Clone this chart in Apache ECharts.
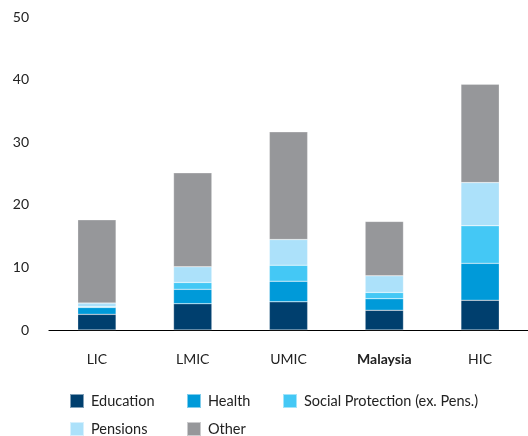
<!DOCTYPE html>
<html><head><meta charset="utf-8">
<script src="https://cdn.jsdelivr.net/npm/echarts@6/dist/echarts.min.js"></script>
<style>html,body{margin:0;padding:0;background:#fff}#c{width:528px;height:436px}</style>
</head><body><div id="c"></div>
<script>
const categories = ['LIC', 'LMIC', 'UMIC', 'Malaysia', 'HIC'];
const education = [2.5, 4.2, 4.5, 3.15, 4.75];
const health = [1.1, 2.3, 3.3, 1.85, 5.9];
const socialProtection = [0.1, 1.1, 2.55, 1.0, 6.0];
const pensions = [0.6, 2.5, 4.1, 2.65, 6.9];
const other = [13.3, 15.0, 17.2, 8.7, 15.7];
const yTicks = [0, 10, 20, 30, 40, 50];

const seriesDefs = [
  ['Education', education, '#003f6e'],
  ['Health', health, '#009ad9'],
  ['Social Protection (ex. Pens.)', socialProtection, '#44c8f5'],
  ['Pensions', pensions, '#ace1fa'],
  ['Other', other, '#96979a']
];
const font = 'Lato, "Noto Sans", sans-serif';
const chart = echarts.init(document.getElementById('c'));
const legendPos = [[69, 393], [186, 393], [282, 393], [69, 421], [186, 421]];
chart.setOption({
  animation: false,
  grid: { left: 49, right: 0, top: 17, bottom: 106, containLabel: false },
  xAxis: {
    type: 'category', data: categories,
    axisLine: { lineStyle: { color: '#000', width: 1.2 } },
    axisTick: { show: false },
    axisLabel: {
      margin: 22, fontSize: 14, color: '#222', fontFamily: font,
      formatter: v => v === 'Malaysia' ? '{b|' + v + '}' : v,
      rich: { b: { fontWeight: 'bold', fontSize: 14, color: '#222', fontFamily: font } }
    }
  },
  yAxis: {
    type: 'value', min: yTicks[0], max: yTicks[yTicks.length - 1], interval: 10,
    splitLine: { show: false }, axisLine: { show: false }, axisTick: { show: false },
    axisLabel: { fontSize: 14, color: '#222', fontFamily: font, margin: 20 }
  },
  legend: seriesDefs.map((d, i) => ({
    data: [d[0]], left: legendPos[i][0], top: legendPos[i][1],
    icon: 'rect', itemWidth: 14, itemHeight: 14, itemGap: 0, padding: 0,
    textStyle: { fontSize: 14.5, color: '#222', fontFamily: font, padding: [0, 0, 0, 2] }
  })),
  series: seriesDefs.map(d => ({
    name: d[0], type: 'bar', stack: 'total', data: d[1], barWidth: '40%',
    itemStyle: { color: d[2], borderColor: 'rgba(255,255,255,0.5)', borderWidth: 0.5 }
  }))
});
</script></body></html>
